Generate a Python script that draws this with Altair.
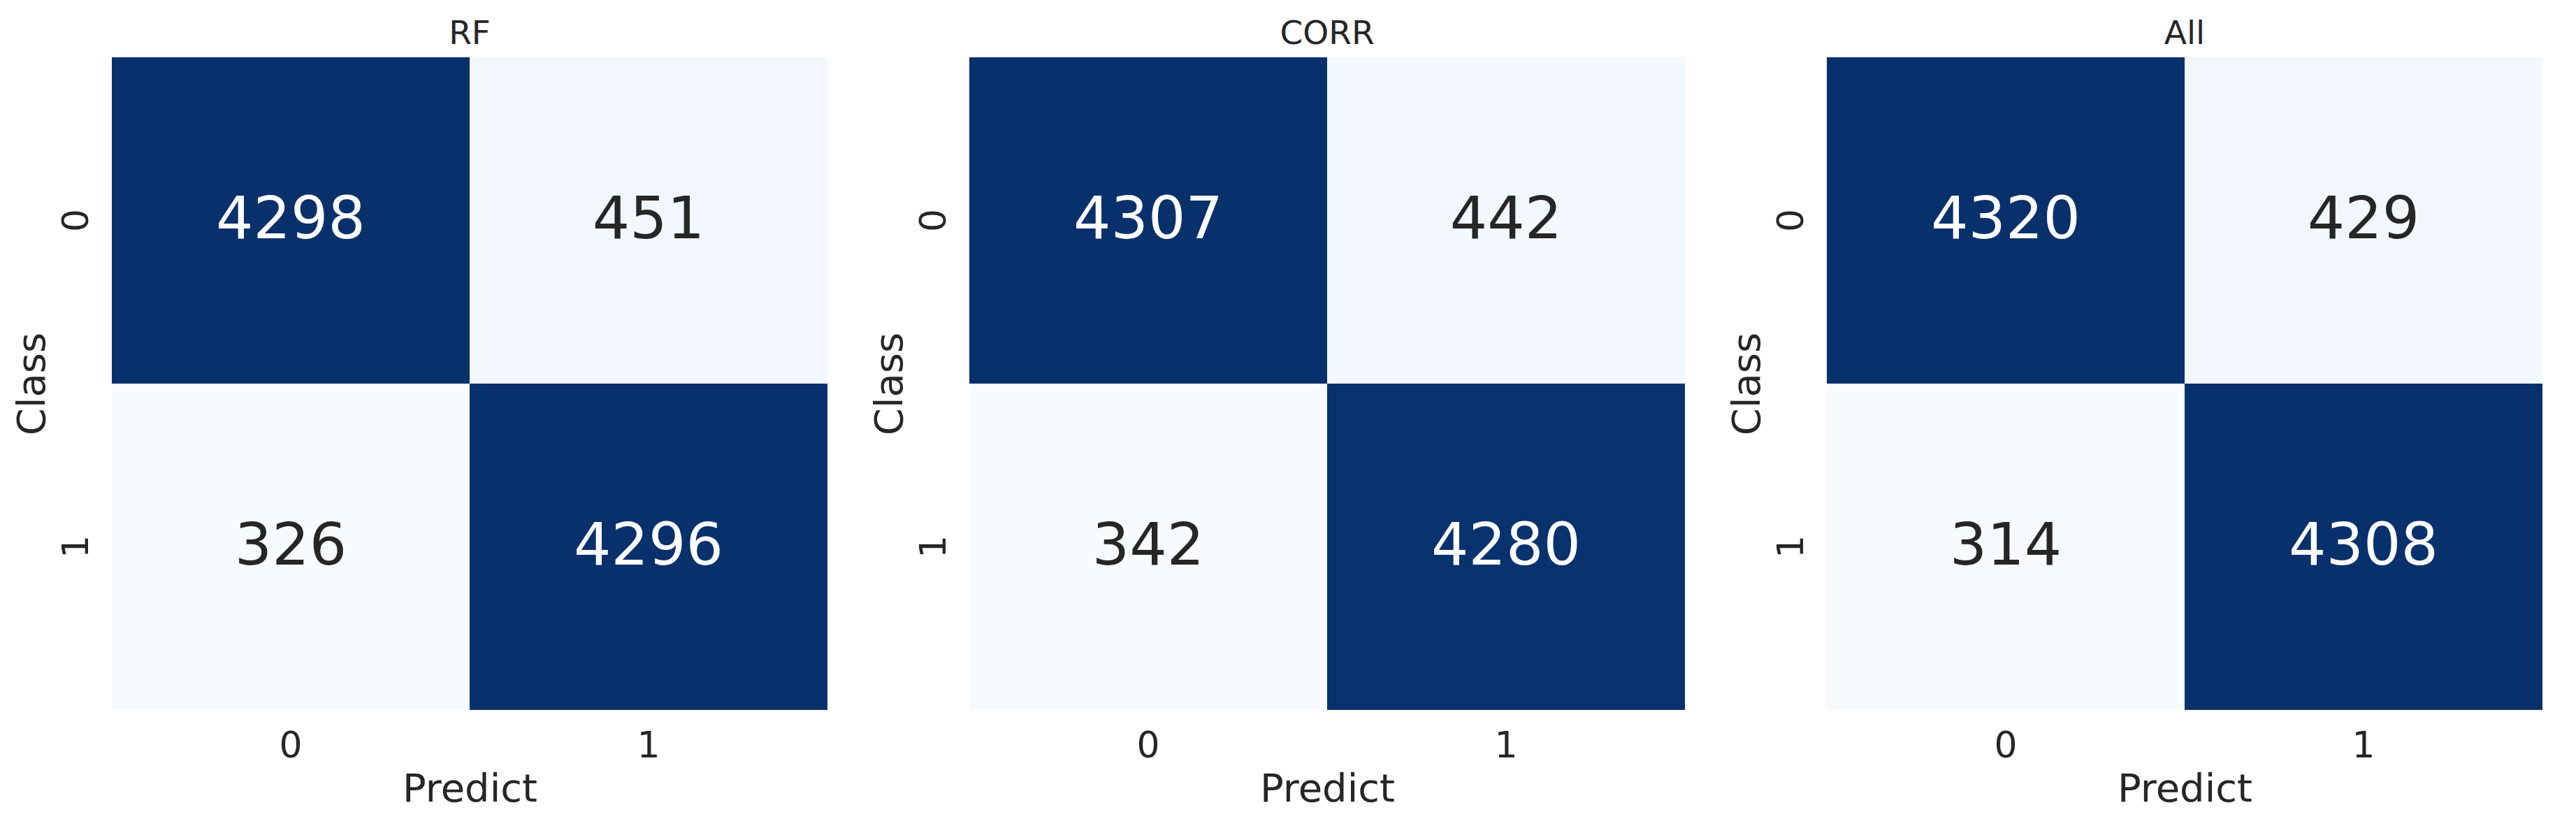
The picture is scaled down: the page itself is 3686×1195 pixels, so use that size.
import altair as alt
import pandas as pd

models = ["RF", "CORR", "All"]
classes = ["0", "1"]
predicts = ["0", "1"]
cm_rf = [[4298, 451], [326, 4296]]
cm_corr = [[4307, 442], [342, 4280]]
cm_all = [[4320, 429], [314, 4308]]
matrices = [cm_rf, cm_corr, cm_all]

BLUES = ["#f7fbff", "#deebf7", "#c6dbef", "#9ecae1", "#6baed6",
         "#4292c6", "#2171b5", "#08519c", "#08306b"]
FONT = "DejaVu Sans"
TXT = "#262626"
W, H = 1024, 934


def panel(name, cm):
    rows = []
    for i, c in enumerate(classes):
        for j, p in enumerate(predicts):
            rows.append({"Class": c, "Predict": p, "value": cm[i][j]})
    df = pd.DataFrame(rows)
    vmin, vmax = df["value"].min(), df["value"].max()
    dom = [vmin + (vmax - vmin) * k / 8 for k in range(9)]
    mid = (vmin + vmax) / 2
    base = alt.Chart(df)
    xenc = alt.X("Predict:N", sort=predicts,
                 scale=alt.Scale(paddingInner=0, paddingOuter=0),
                 axis=alt.Axis(title="Predict", labelAngle=0, domain=False,
                               ticks=False, tickSize=0, grid=False,
                               labelPadding=67, labelBaseline="alphabetic",
                               labelFont=FONT, labelFontSize=52, labelColor=TXT,
                               titleFont=FONT, titleFontSize=56, titleColor=TXT,
                               titleFontWeight="normal", titleBaseline="alphabetic",
                               titleX=W / 2, titleY=130, titleAlign="center"))
    yenc = alt.Y("Class:N", sort=classes,
                 scale=alt.Scale(paddingInner=0, paddingOuter=0),
                 axis=alt.Axis(title="Class", labelAngle=270, domain=False,
                               ticks=False, tickSize=0, grid=False,
                               labelPadding=35, labelBaseline="alphabetic",
                               labelAlign="center",
                               labelFont=FONT, labelFontSize=52, labelColor=TXT,
                               titleFont=FONT, titleFontSize=56, titleColor=TXT,
                               titleFontWeight="normal", titleBaseline="alphabetic",
                               titleAngle=270, titleAlign="center",
                               titleX=-97, titleY=H / 2))
    rect = base.mark_rect().encode(
        x=xenc, y=yenc,
        color=alt.Color("value:Q", legend=None,
                        scale=alt.Scale(domain=dom, range=BLUES, interpolate="rgb")),
    )
    text = base.mark_text(font=FONT, fontSize=84, baseline="middle").encode(
        x=alt.X("Predict:N", sort=predicts),
        y=alt.Y("Class:N", sort=classes),
        text=alt.Text("value:Q", format="d"),
        color=alt.condition(f"datum.value > {mid}", alt.value("white"), alt.value(TXT)),
    )
    return (rect + text).properties(
        width=W, height=H,
        title=alt.TitleParams(name, font=FONT, fontSize=47, fontWeight="normal",
                              color=TXT, baseline="alphabetic", offset=-28,
                              anchor="middle"),
    )


chart = alt.hconcat(*[panel(n, m) for n, m in zip(models, matrices)], spacing=61)
chart = chart.resolve_scale(color="independent").configure_view(stroke=None).properties(
    padding={"left": 10, "top": 17, "right": 5, "bottom": 5}, background="white"
)
chart.save("out.html", embed_options={"renderer": "svg", "actions": False})
